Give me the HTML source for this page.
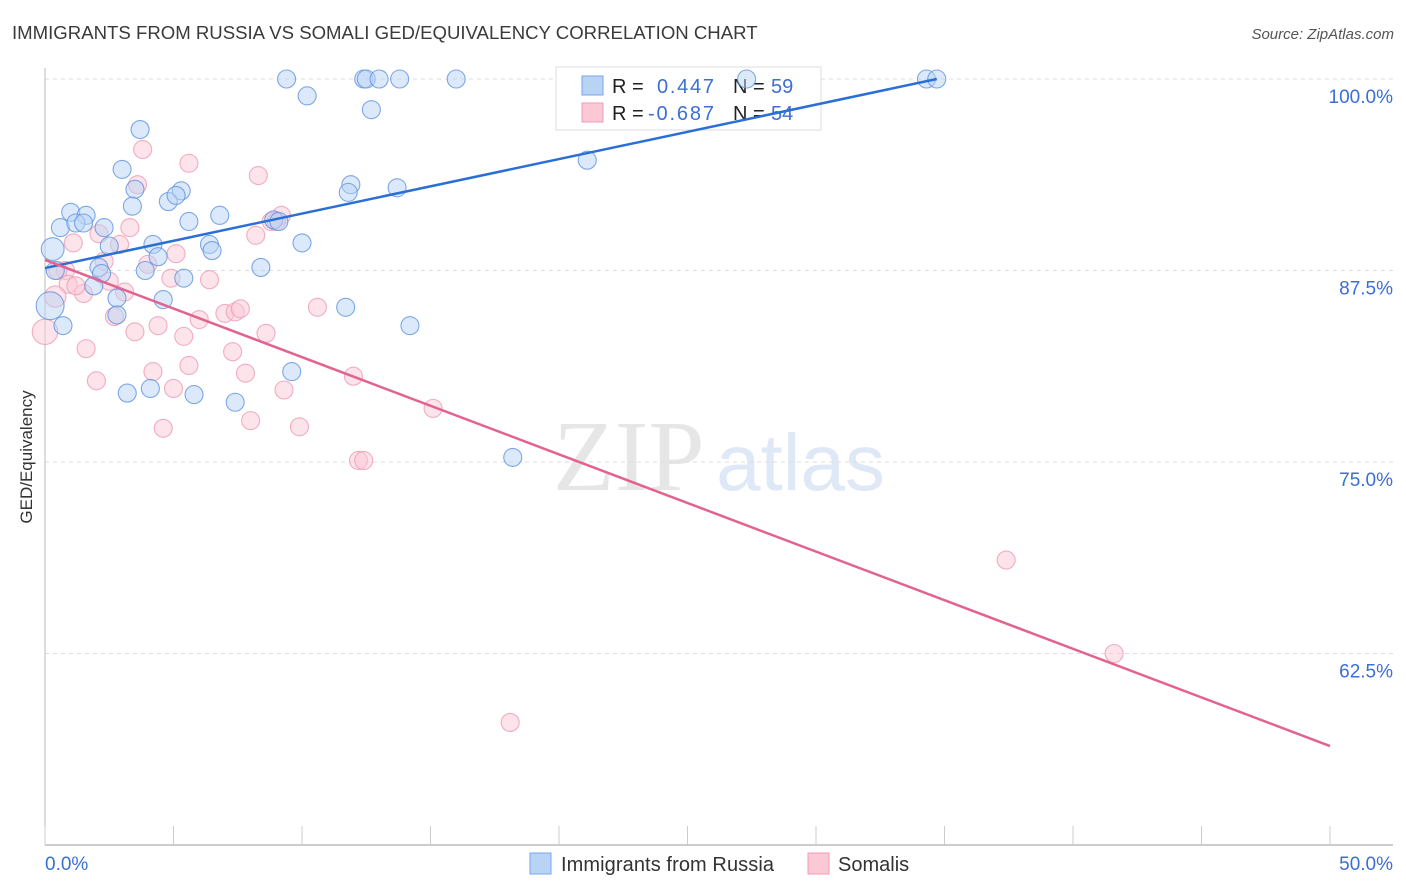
<!DOCTYPE html>
<html><head><meta charset="utf-8"><style>
body{margin:0;background:#fff;font-family:"Liberation Sans",sans-serif}
svg{display:block}
</style></head><body>
<svg id="chart" width="1406" height="892">
<text x="12" y="39" font-size="18.6" fill="#3a3a3a">IMMIGRANTS FROM RUSSIA VS SOMALI GED/EQUIVALENCY CORRELATION CHART</text>
<text x="1394" y="39" font-size="15" fill="#555" font-style="italic" text-anchor="end">Source: ZipAtlas.com</text>
<text x="553" y="490" font-size="101" fill="#e6e6e6" font-family="Liberation Serif,serif">ZIP</text>
<text x="716" y="490" font-size="80" fill="#dfe8f6">atlas</text>
<text transform="translate(32,457) rotate(-90)" font-size="17" fill="#333" text-anchor="middle">GED/Equivalency</text>
<g id="grid"></g><g id="axes"></g>
<g>
<rect x="556" y="67" width="265" height="63" fill="#fff" stroke="#ddd"/>
<rect x="582" y="76" width="21" height="19" fill="#b9d3f5" stroke="#7aa5e6"/>
<rect x="582" y="103" width="21" height="19" fill="#fbc8d6" stroke="#ee9bb3"/>
<text x="612" y="93" font-size="20" fill="#222">R = </text><text x="657" y="93" font-size="20" fill="#3b6fd4" textLength="57">0.447</text>
<text x="733" y="93" font-size="20" fill="#222">N = </text><text x="771" y="93" font-size="20" fill="#3b6fd4">59</text>
<text x="612" y="120" font-size="20" fill="#222">R = </text><text x="648" y="120" font-size="20" fill="#3b6fd4" textLength="66">-0.687</text>
<text x="733" y="120" font-size="20" fill="#222">N = </text><text x="771" y="120" font-size="20" fill="#3b6fd4">54</text>
</g>
<g id="pts"></g><g id="lines"></g>
<g>
<rect x="530" y="853" width="21" height="21" fill="#b9d3f5" stroke="#7aa5e6"/>
<text x="561" y="871" font-size="20" fill="#333" textLength="213">Immigrants from Russia</text>
<rect x="808" y="853" width="21" height="21" fill="#fbc8d6" stroke="#ee9bb3"/>
<text x="838" y="871" font-size="20" fill="#333">Somalis</text>
</g>
</svg>
<script>
const yTicks=[100,87.5,75,62.5];
const yTickLabels=["100.0%","87.5%","75.0%","62.5%"];
const xTickLabels=["0.0%","50.0%"];
const russiaX=[9.4,10.2,12.4,12.5,13.0,13.8,16.0,12.7,27.3,34.3,34.7,3.7,3.0,3.5,5.3,4.8,5.1,3.4,11.9,11.8,13.7,21.1,1.0,1.6,0.6,1.2,1.5,2.3,5.6,6.8,8.9,0.3,2.5,4.2,6.4,6.5,4.4,10.0,0.4,2.1,2.2,3.9,5.4,8.4,1.9,2.8,4.6,0.2,0.7,2.8,11.7,14.2,3.2,4.1,5.8,7.4,9.6,18.2,9.1];
const russiaY=[100,98.9,100,100,100,100,100,98.0,100,100,100,96.7,94.1,92.8,92.7,92.0,92.4,91.7,93.1,92.6,92.9,94.7,91.3,91.1,90.3,90.6,90.6,90.3,90.7,91.1,90.8,88.9,89.1,89.2,89.2,88.8,88.4,89.3,87.5,87.7,87.3,87.5,87.0,87.7,86.5,85.7,85.6,85.2,83.9,84.6,85.1,83.9,79.5,79.8,79.4,78.9,80.9,75.3,90.7];
const russiaWeight=[1,1,1,1,1,1,1,1,1,1,1,1,1,1,1,1,1,1,1,1,1,1,1,1,1,1,1,1,1,1,1,1.6,1,1,1,1,1,1,1,1,1,1,1,1,1,1,1,2.4,1,1,1,1,1,1,1,1,1,1,1];
const somaliX=[3.8,5.6,8.3,3.6,1.1,2.1,3.3,2.9,8.2,9.2,8.8,5.1,4.0,2.3,0.8,0.5,2.5,3.1,4.9,6.4,0.9,1.5,1.2,0.4,0.0,2.7,4.4,3.5,5.4,6.0,7.0,7.4,7.6,10.6,8.6,1.6,7.3,5.6,4.2,7.8,2.0,5.0,9.3,12.0,15.1,4.6,8.0,9.9,12.2,12.4,37.4,41.6,18.1,9.0];
const somaliY=[95.4,94.5,93.7,93.1,89.3,89.9,90.3,89.2,89.8,91.1,90.7,88.6,87.9,88.1,87.5,87.5,86.8,86.1,87.0,86.9,86.6,86.0,86.5,85.8,83.5,84.5,83.9,83.5,83.2,84.3,84.7,84.8,85.0,85.1,83.4,82.4,82.2,81.3,80.9,80.8,80.3,79.8,79.7,80.6,78.5,77.2,77.7,77.3,75.1,75.1,68.6,62.5,58.0,90.7];
const somaliWeight=[1,1,1,1,1,1,1,1,1,1,1,1,1,1,1,1,1,1,1,1,1,1,1,1.4,2.0,1,1,1,1,1,1,1,1,1,1,1,1,1,1,1,1,1,1,1,1,1,1,1,1,1,1,1,1,1];
const russiaTrend=[87.66,100];const russiaTrendX=[0,34.7];
const somaliTrend=[88.19,56.46];const somaliTrendX=[0,50];
const NS="http://www.w3.org/2000/svg";
function sx(v){return 45+v*25.7;}
function sy(v){return 79+(100-v)*15.32;}
function mk(t,a,p){const e=document.createElementNS(NS,t);for(const k in a)e.setAttribute(k,a[k]);document.getElementById(p).appendChild(e);return e;}
yTicks.forEach((t,i)=>{
 const l=mk('line',{x1:45,x2:1393,y1:sy(t),y2:sy(t),stroke:'#ddd','stroke-dasharray':'4,4'},'grid');
 
 
 const tx=mk('text',{x:1393,y:sy(t)+24,'font-size':19,fill:'#3b6fd4','text-anchor':'end'},'grid');
 tx.textContent=yTickLabels[i];
 
 
});
const ax=mk('line',{x1:45,x2:1393,y1:845,y2:845,stroke:'#bbb','stroke-width':1.5},'axes');


const ay=mk('line',{x1:45,x2:45,y1:68,y2:845,stroke:'#bbb'},'axes');


for(let k=0;k<=10;k++){
 const t=mk('line',{x1:sx(k*5),x2:sx(k*5),y1:826,y2:845,stroke:'#ccc'},'axes');
 
 
}
[[0,'start'],[50,'end']].forEach((d,i)=>{
 const t=mk('text',{x:i?1393:45,y:870,'font-size':19,fill:'#3b6fd4','text-anchor':d[1]},'axes');
 t.textContent=xTickLabels[i];
 
 
});
function dots(X,Y,W,fill,stroke,name){
 X.forEach((x,i)=>{
  const c=mk('circle',{cx:sx(x),cy:sy(Y[i]),r:9*Math.sqrt(W[i]),fill:fill,'fill-opacity':0.5,stroke:stroke,'stroke-width':1.1,'stroke-opacity':0.8},'pts');
  
  
 });
}
dots(somaliX,somaliY,somaliWeight,'#fbc8d6','#ee9bb3','somali-point');
dots(russiaX,russiaY,russiaWeight,'#b9d3f5','#5f93e0','russia-point');
const l1=mk('line',{x1:sx(russiaTrendX[0]),y1:sy(russiaTrend[0]),x2:sx(russiaTrendX[1]),y2:sy(russiaTrend[1]),stroke:'#2a6fd6','stroke-width':2.5},'lines');


const l2=mk('line',{x1:sx(somaliTrendX[0]),y1:sy(somaliTrend[0]),x2:sx(somaliTrendX[1]),y2:sy(somaliTrend[1]),stroke:'#e2638f','stroke-width':2.5},'lines');


</script>
</body></html>
